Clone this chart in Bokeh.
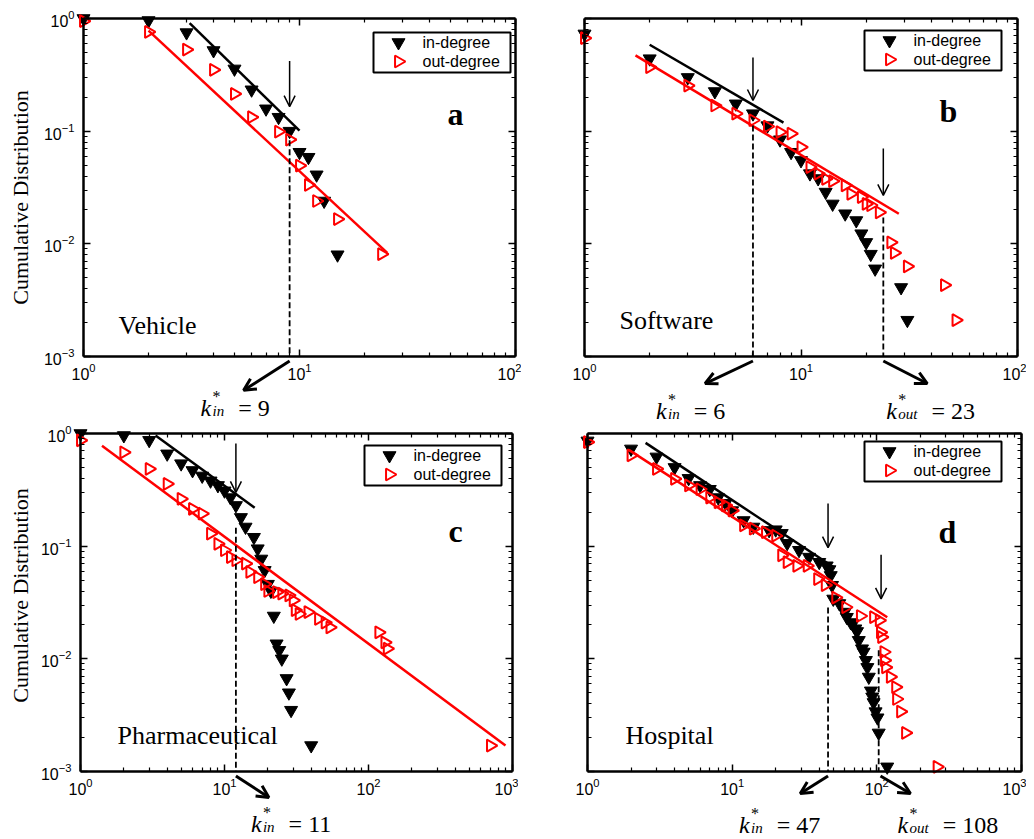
import numpy as np
from bokeh.plotting import figure
from bokeh.models import (LogAxis, FixedTicker, CustomJSTickFormatter, BoxAnnotation,
                          Arrow, OpenHead, Label, Range1d)
from bokeh.layouts import column, row
from bokeh.embed import file_html
from bokeh.resources import INLINE

SERIF = "Liberation Serif"
SANS = "Liberation Sans"

# ---------------- tick labels ----------------
x_ticks_2 = [1, 10, 100]
x_ticks_3 = [1, 10, 100, 1000]
y_ticks = [0.001, 0.01, 0.1, 1]

# ---------------- panel a : Vehicle ----------------
a_in_k = [1, 2, 3, 4, 5, 6, 7, 8, 9, 10, 11, 12, 13, 15]
a_in_p = [1.0, 0.96, 0.75, 0.52, 0.357, 0.233, 0.158, 0.133, 0.10, 0.065, 0.0587, 0.041, 0.024, 0.008]
a_out_k = [1, 2, 3, 4, 5, 6, 8, 9, 10, 11, 12, 15, 24]
a_out_p = [0.95, 0.76, 0.53, 0.35, 0.214, 0.133, 0.099, 0.084, 0.0495, 0.0333, 0.024, 0.0166, 0.0081]
a_fit_in_x = [3.1, 10.0]
a_fit_in_y = [0.91, 0.101]
a_fit_out_x = [2.0, 25.5]
a_fit_out_y = [0.78, 0.0083]

# ---------------- panel b : Software ----------------
b_in_k = [1, 2, 3, 4, 5, 6, 7, 8, 9, 10, 11, 12, 13, 14, 16, 18, 19, 20, 21, 22, 29, 31]
b_in_p = [0.73, 0.44, 0.30, 0.225, 0.175, 0.143, 0.112, 0.084, 0.065, 0.055, 0.042, 0.038,
          0.0288, 0.0226, 0.0185, 0.0161, 0.0123, 0.0103, 0.0081, 0.006, 0.0041, 0.0021]
b_out_k = [1, 2, 3, 4, 5, 6, 7, 8, 9, 10, 11, 12, 13, 14, 16, 17, 19, 20, 21, 23, 26, 27, 31, 46, 52]
b_out_p = [0.67, 0.37, 0.254, 0.169, 0.143, 0.125, 0.11, 0.098, 0.095, 0.072, 0.048, 0.042,
           0.0378, 0.036, 0.033, 0.0278, 0.026, 0.0226, 0.022, 0.019, 0.0103, 0.0083, 0.0063,
           0.0043, 0.0021]
b_fit_in_x = [2.0, 8.3]
b_fit_in_y = [0.585, 0.119]
b_fit_out_x = [1.72, 28.3]
b_fit_out_y = [0.47, 0.0185]

# ---------------- panel c : Pharmaceutical ----------------
c_in_k = [1, 2, 3, 4, 5, 6, 7, 8, 9, 10, 11, 12, 13, 14, 16, 17, 18, 19, 20, 21, 22, 23, 24, 25,
          27, 28, 29, 40]
c_in_p = [1.0, 0.96, 0.87, 0.66, 0.54, 0.47, 0.42, 0.38, 0.346, 0.31, 0.27, 0.23, 0.18, 0.148,
          0.12, 0.095, 0.077, 0.061, 0.046, 0.040, 0.024, 0.0136, 0.0119, 0.010, 0.0067, 0.005,
          0.0035, 0.0017]
c_out_k = [1, 2, 3, 4, 5, 6, 7, 8, 9, 10, 11, 12, 14, 15, 17, 19, 20, 23, 25, 28, 30, 31, 33,
           38, 45, 50, 54, 118, 130, 135, 703]
c_out_p = [0.87, 0.68, 0.485, 0.357, 0.263, 0.214, 0.194, 0.129, 0.105, 0.092, 0.08, 0.075,
           0.07, 0.059, 0.053, 0.046, 0.040, 0.039, 0.038, 0.0365, 0.033, 0.027, 0.025, 0.026,
           0.0226, 0.021, 0.019, 0.0172, 0.014, 0.0123, 0.0017]
c_fit_in_x = [3.32, 16.2]
c_fit_in_y = [0.96, 0.219]
c_fit_out_x = [1.41, 894.0]
c_fit_out_y = [0.78, 0.0017]

# ---------------- panel d : Hospital ----------------
d_in_k = [1, 2, 3, 4, 5, 6, 7, 8, 9, 10, 12, 14, 18, 20, 22, 24, 29, 34, 40, 45, 47, 48, 49,
          50, 55, 60, 62, 66, 68, 71, 73, 75, 79, 81, 84, 86, 88, 91, 93, 95, 98, 101, 103, 118]
d_in_p = [0.86, 0.73, 0.62, 0.50, 0.40, 0.346, 0.32, 0.27, 0.24, 0.207, 0.169, 0.148, 0.138,
          0.14, 0.13, 0.106, 0.092, 0.080, 0.072, 0.067, 0.062, 0.055, 0.045, 0.034, 0.031,
          0.026, 0.0234, 0.021, 0.0205, 0.0185, 0.0175, 0.0146, 0.0123, 0.0115, 0.0097, 0.0084,
          0.0069, 0.0052, 0.0046, 0.0041, 0.0034, 0.0030, 0.0022, 0.0011]
d_out_k = [1, 2, 3, 4, 5, 6, 7, 8, 9, 10, 12, 14, 17, 20, 22, 24, 28, 33, 39, 44, 52, 61, 77,
           95, 104, 106, 108, 112, 113, 115, 124, 135, 137, 146, 158, 261]
d_out_p = [0.84, 0.64, 0.485, 0.396, 0.346, 0.32, 0.27, 0.245, 0.23, 0.207, 0.153, 0.143,
           0.133, 0.124, 0.083, 0.072, 0.067, 0.067, 0.051, 0.045, 0.035, 0.0287, 0.024, 0.0234,
           0.0219, 0.0172, 0.0156, 0.0115, 0.0097, 0.0084, 0.0069, 0.0056, 0.0044, 0.0034,
           0.0022, 0.0011]
d_fit_in_x = [2.52, 50.4]
d_fit_in_y = [0.826, 0.065]
d_fit_out_x = [1.93, 118.0]
d_fit_out_y = [0.716, 0.0234]

# crossover degrees: vertical arrow (x, top, tip) and dashed line (x, top)
a_arrows = [(9, 0.42, 0.165)]
a_dashes = [(9, 0.083)]
b_arrows = [(6, 0.45, 0.187), (24, 0.070, 0.0269)]
b_dashes = [(6, 0.112), (24, 0.0171)]
c_arrows = [(12, 0.815, 0.30)]
c_dashes = [(12, 0.146)]
d_arrows = [(46, 0.239, 0.097), (107, 0.084, 0.034)]
d_dashes = [(46, 0.0286), (103, 0.0119)]

# labels under the axes: (k start, direction, subscript, value text)
a_kstar = [(9, -1, "in", "= 9")]
b_kstar = [(6, -1, "in", "= 6"), (24, 1, "out", "= 23")]
c_kstar = [(12, 1, "in", "= 11")]
d_kstar = [(46, -1, "in", "= 47"), (106, 1, "out", "= 108")]

DY = 338 / 3.0  # px per decade on y


def minor_list(e0, e1):
    return [m * 10.0 ** e for e in range(e0, e1) for m in range(2, 10)]


def style_axis(ax, ticks, minor, labels, bounds):
    ax.ticker = FixedTicker(ticks=ticks, minor_ticks=minor)
    ax.bounds = bounds
    ax.major_tick_in = 7
    ax.major_tick_out = 0
    ax.minor_tick_in = 4
    ax.minor_tick_out = 0
    ax.major_tick_line_width = 1.5
    ax.minor_tick_line_width = 1.2
    ax.axis_line_width = 2.5
    ax.axis_line_color = "black"
    ax.major_tick_line_color = "black"
    ax.minor_tick_line_color = "black"
    ax.major_label_text_font = SANS
    ax.major_label_text_font_size = "16px"
    ax.major_label_text_color = "black"
    if not labels:
        ax.formatter = CustomJSTickFormatter(code="return ''")
        ax.major_label_standoff = 0


def panel(name, letter, ndec, in_k, in_p, out_k, out_p, fin, fout, arrows, dashes, kstars,
          show_y, ylab_y, geom, leg, letter_pos, name_pos, kbase, koffs, kends):
    L, R, T, B, bw = geom
    DX = bw / float(ndec)
    W = L + bw + R
    H = T + 338 + B
    p = figure(x_axis_type="log", y_axis_type="log",
               x_axis_location=None, y_axis_location=None, title=None,
               x_range=Range1d(10 ** (-L / DX), 10 ** (ndec + R / DX)),
               y_range=Range1d(10 ** (-3 - B / DY), 10 ** (T / DY)),
               width=W, height=H, frame_width=W, frame_height=H, min_border=0,
               toolbar_location=None, output_backend="svg",
               background_fill_color="white", border_fill_color="white",
               outline_line_color=None)
    p.xgrid.visible = False
    p.ygrid.visible = False
    xt = x_ticks_2 if ndec == 2 else x_ticks_3
    xm = minor_list(0, ndec)
    ym = minor_list(-3, 0)
    xb = (1, 10 ** ndec)
    yb = (1e-3, 1)

    bottom = LogAxis(fixed_location=1e-3)
    style_axis(bottom, xt, xm, True, xb)
    bottom.major_label_standoff = 6
    p.add_layout(bottom, "below")
    top = LogAxis(fixed_location=1)
    style_axis(top, xt, xm, False, xb)
    p.add_layout(top, "above")
    left = LogAxis(fixed_location=1)
    style_axis(left, y_ticks, ym, show_y, yb)
    if show_y:
        left.major_label_standoff = 9
    p.add_layout(left, "left")
    right = LogAxis(fixed_location=10 ** ndec)
    style_axis(right, y_ticks, ym, False, yb)
    p.add_layout(right, "right")

    if show_y:
        p.add_layout(Label(x=20, y=B + ylab_y, x_units="screen", y_units="screen",
                           text="Cumulative Distribution", angle=np.pi / 2,
                           text_font=SERIF, text_font_size="22px", text_color="black",
                           text_align="center", text_baseline="middle"))

    # legend (box + markers + texts)
    lx, ly = leg
    p.add_layout(BoxAnnotation(left=L + lx, right=L + lx + 137, bottom=B + ly, top=B + ly + 40,
                               left_units="screen", right_units="screen",
                               bottom_units="screen", top_units="screen",
                               fill_color="white", fill_alpha=1, line_color="black",
                               line_alpha=1, line_dash="solid",
                               line_width=2, level="underlay"))
    mx = 10 ** ((lx + 25) / DX)
    my1 = 10 ** (-3 + (ly + 30) / DY)
    my2 = 10 ** (-3 + (ly + 11) / DY)
    p.scatter([mx], [my1], marker="inverted_triangle", size=13, color="black")
    p.scatter([mx], [my2], marker="triangle", size=12, angle=-np.pi / 2,
              line_color="#ff0000", fill_alpha=0, line_width=2)
    for txt, yy in (("in-degree", ly + 30), ("out-degree", ly + 11)):
        p.add_layout(Label(x=L + lx + 49, y=B + yy, x_units="screen", y_units="screen",
                           text=txt, text_font=SANS, text_font_size="16px", text_color="black",
                           text_align="left", text_baseline="middle"))

    p.scatter(in_k, in_p, marker="inverted_triangle", size=13, color="black")
    p.scatter(out_k, out_p, marker="triangle", size=12, angle=-np.pi / 2,
              line_color="#ff0000", fill_alpha=0, line_width=2)
    p.line(fin[0], fin[1], line_color="black", line_width=2.5)
    p.line(fout[0], fout[1], line_color="#ff0000", line_width=2.5)

    for (x, y0, y1) in arrows:
        p.add_layout(Arrow(end=OpenHead(size=11, line_width=1.5), x_start=x, y_start=y0,
                           x_end=x, y_end=y1, line_width=1.5, line_color="black"))
    for (x, y0) in dashes:
        p.line([x, x], [y0, 1e-3], line_color="black", line_width=1.8, line_dash="6 3")

    for i, (k, d, sub, val) in enumerate(kstars):
        dx, ye = kends[i]
        p.add_layout(Arrow(end=OpenHead(size=12, line_width=3), x_start=k, y_start=10 ** -3.04,
                           x_end=k * 10 ** (d * dx), y_end=10 ** ye, line_width=3,
                           line_color="black"))
        xo = koffs[i]
        subw = 11.7 if sub == "in" else 19.2
        common = dict(x=k, y=1e-3, text_font=SERIF, text_color="black",
                      text_baseline="alphabetic", text_align="left")
        p.add_layout(Label(x_offset=xo, y_offset=-kbase, text="k", text_font_size="24px",
                           text_font_style="italic", **common))
        p.add_layout(Label(x_offset=xo + 12, y_offset=-kbase + 11, text="*",
                           text_font_size="16px", **common))
        p.add_layout(Label(x_offset=xo + 12, y_offset=-kbase - 3, text=sub,
                           text_font_size="15px", text_font_style="italic", **common))
        p.add_layout(Label(x_offset=xo + 12 + subw + 14, y_offset=-kbase, text=val,
                           text_font_size="24px", **common))

    p.add_layout(Label(x=L + letter_pos[0], y=B + letter_pos[1], x_units="screen",
                       y_units="screen", text=letter, text_font=SERIF, text_font_size="32px",
                       text_font_style="bold", text_color="black",
                       text_align="center", text_baseline="middle"))
    p.add_layout(Label(x=L + name_pos[0], y=B + name_pos[1], x_units="screen", y_units="screen",
                       text=name, text_font=SERIF, text_font_size="26px", text_color="black",
                       text_align="left", text_baseline="middle"))
    return p


pa = panel("Vehicle", "a", 2, a_in_k, a_in_p, a_out_k, a_out_p,
           (a_fit_in_x, a_fit_in_y), (a_fit_out_x, a_fit_out_y), a_arrows, a_dashes, a_kstar,
           True, 159, (83, 6, 18, 69, 432), (290, 284), (372, 243), (35, 31), 51,
           [-89], [(0.213, -3.30)])
pb = panel("Software", "b", 2, b_in_k, b_in_p, b_out_k, b_out_p,
           (b_fit_in_x, b_fit_in_y), (b_fit_out_x, b_fit_out_y), b_arrows, b_dashes, b_kstar,
           False, 0, (63, 9, 18, 69, 433), (280, 286), (364, 246), (35, 36), 54,
           [-97, 3], [(0.221, -3.24), (0.203, -3.24)])
pc = panel("Pharmaceutical", "c", 3, c_in_k, c_in_p, c_out_k, c_out_p,
           (c_fit_in_x, c_fit_in_y), (c_fit_out_x, c_fit_out_y), c_arrows, c_dashes, c_kstar,
           True, 176, (80, 6, 8, 66, 432), (284, 286), (375, 241), (37, 36), 52,
           [15], [(0.229, -3.23)])
pd_ = panel("Hospital", "d", 3, d_in_k, d_in_p, d_out_k, d_out_p,
            (d_fit_in_x, d_fit_in_y), (d_fit_out_x, d_fit_out_y), d_arrows, d_dashes, d_kstar,
            False, 0, (69, 5, 8, 66, 434), (277, 290), (360, 240), (38, 36), 53,
            [-89, 17], [(0.192, -3.195), (0.207, -3.195)])

layout = column(row(pa, pb), row(pc, pd_))
open("out.html", "w").write(file_html(layout, INLINE))
